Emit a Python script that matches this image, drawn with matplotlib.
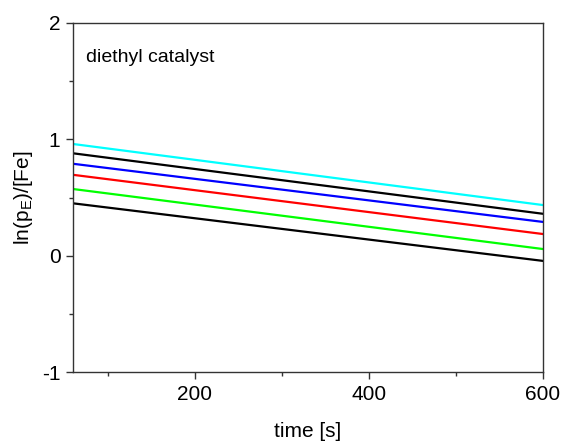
import matplotlib
matplotlib.use("Agg")
import matplotlib.pyplot as plt
from matplotlib.ticker import MultipleLocator

plt.rcParams['font.family'] = ['Liberation Sans', 'DejaVu Sans']
plt.rcParams['mathtext.fontset'] = 'custom'
plt.rcParams['mathtext.rm'] = 'Liberation Sans'
plt.rcParams['mathtext.it'] = 'Liberation Sans'

time = [60, 600]
series_colors = ["#00ffff", "black", "blue", "red", "#00ff00", "black"]
series_values = [
    [0.96, 0.435],
    [0.88, 0.36],
    [0.79, 0.29],
    [0.695, 0.186],
    [0.573, 0.057],
    [0.45, -0.045],
]

fig = plt.figure(figsize=(5.62, 4.43), dpi=100)
ax = fig.add_axes([73/562, 1-372/443, (543-73)/562, (372-23)/443])
for vals, c in zip(series_values, series_colors):
    ax.plot(time, vals, color=c, lw=1.6)

ax.set_xlim(60, 600)
ax.set_ylim(-1, 2)
ax.xaxis.set_major_locator(MultipleLocator(200))
ax.xaxis.set_minor_locator(MultipleLocator(100))
ax.yaxis.set_major_locator(MultipleLocator(1))
ax.yaxis.set_minor_locator(MultipleLocator(0.5))
ax.set_yticks([-1, 0, 1, 2])
ax.set_yticklabels(["-1", "0", "1", "2"])
ax.tick_params(which='major', direction='out', length=5, width=1, labelsize=15, colors='#333333', labelcolor='black', pad=4)
ax.tick_params(which='minor', direction='out', length=3, width=1, colors='#333333')
for s in ax.spines.values():
    s.set_linewidth(1.0)
    s.set_color('#333333')

ax.set_xlabel("time [s]", fontsize=15, labelpad=13)
ax.set_ylabel(r"ln(p$_\mathregular{E}$)/[Fe]", fontsize=15, labelpad=5)
ax.text((86-73)/470, 1-(57-23)/349, "diethyl catalyst", transform=ax.transAxes, fontsize=14, va='center')

fig.savefig("out.png", dpi=100)
